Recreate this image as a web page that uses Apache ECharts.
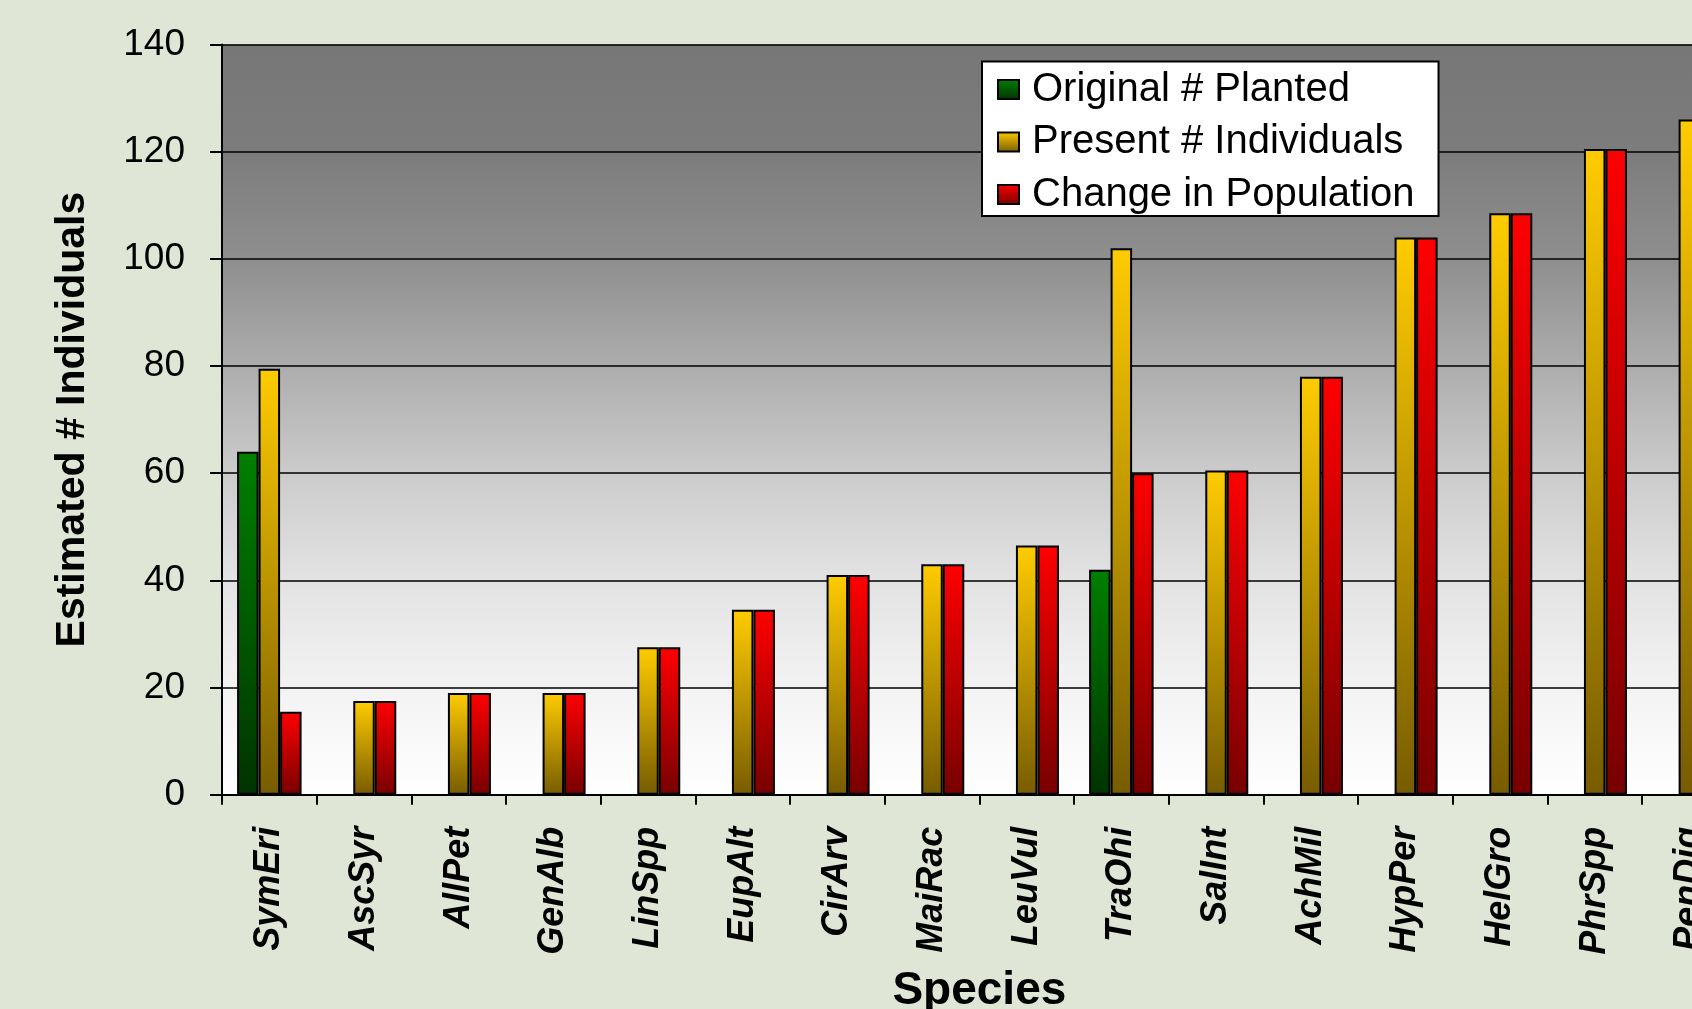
<!DOCTYPE html>
<html>
<head>
<meta charset="utf-8">
<script src="https://cdn.jsdelivr.net/npm/echarts@6/dist/echarts.min.js"></script>
<style>
html,body{margin:0;padding:0;background:#dfe6d5;}
#chart{width:1692px;height:1009px;}
</style>
</head>
<body>
<div id="chart"></div>
<script>
const categories = ['SymEri','AscSyr','AllPet','GenAlb','LinSpp','EupAlt','CirArv','MaiRac','LeuVul','TraOhi','SalInt','AchMil','HypPer','HelGro','PhrSpp','PenDig'];
const originalPlanted = [64, null, null, null, null, null, null, null, null, 42, null, null, null, null, null, null];
const presentIndividuals = [79.5, 17.5, 19, 19, 27.5, 34.5, 41, 43, 46.5, 102, 60.5, 78, 104, 108.5, 120.5, 126];
const changeInPopulation = [15.5, 17.5, 19, 19, 27.5, 34.5, 41, 43, 46.5, 60, 60.5, 78, 104, 108.5, 120.5, 126];
const yTicks = {min: 0, max: 140, interval: 20};

const chart = echarts.init(document.getElementById('chart'), null, {renderer: 'canvas'});
const G = echarts.graphic.LinearGradient;
const grad = (top, bottom) => new G(0, 0, 0, 1, [{offset: 0, color: top}, {offset: 1, color: bottom}]);
const plotBg = new G(0, 0, 0, 1, [
  {offset: 0, color: '#777777'},
  {offset: 0.14, color: '#7c7c7c'},
  {offset: 0.29, color: '#8f8f8f'},
  {offset: 0.43, color: '#adadad'},
  {offset: 0.57, color: '#cbcbcb'},
  {offset: 0.71, color: '#e2e2e2'},
  {offset: 0.86, color: '#f3f3f3'},
  {offset: 1, color: '#ffffff'}
]);

const barCommon = {
  type: 'bar',
  barWidth: 21.5,
  barGap: '0%',
  emphasis: {disabled: true}
};

chart.setOption({
  backgroundColor: '#dfe6d5',
  animation: false,
  grid: {
    left: 222, top: 44.5, width: 1514.7, height: 750.2,
    outerBoundsMode: 'none',
    containLabel: false,
    show: true, backgroundColor: plotBg, borderWidth: 0
  },
  legend: {
    left: 982, top: 61.5,
    orient: 'vertical',
    backgroundColor: '#ffffff',
    borderColor: '#000000',
    borderWidth: 2,
    borderRadius: 0,
    padding: [8, 24, 1.5, 15],
    itemWidth: 21, itemHeight: 19,
    itemGap: 12.5,
    icon: 'rect',
    textStyle: {fontFamily: 'Liberation Sans, Arial, sans-serif', fontSize: 40, color: '#000', lineHeight: 40, padding: [0, 0, 0, 8]},
    data: ['Original # Planted', 'Present # Individuals', 'Change in Population']
  },
  xAxis: {
    type: 'category',
    data: categories,
    boundaryGap: true,
    name: 'Species',
    nameLocation: 'middle',
    nameGap: 174,
    nameTextStyle: {fontFamily: 'Liberation Sans, Arial, sans-serif', fontWeight: 'bold', fontSize: 46, color: '#000'},
    axisLine: {show: true, lineStyle: {color: '#000', width: 2}},
    axisTick: {show: true, length: 10, lineStyle: {color: '#000', width: 2}},
    axisLabel: {
      rotate: 90, margin: 32, interval: 0,
      fontFamily: 'Liberation Sans, Arial, sans-serif', fontWeight: 'bold', fontStyle: 'italic',
      fontSize: 36, color: '#000'
    },
    splitLine: {show: false}
  },
  yAxis: {
    type: 'value',
    min: yTicks.min, max: yTicks.max, interval: yTicks.interval,
    name: 'Estimated # Individuals',
    nameLocation: 'middle',
    nameRotate: 90,
    nameGap: 129,
    nameTextStyle: {fontFamily: 'Liberation Sans, Arial, sans-serif', fontWeight: 'bold', fontSize: 41, color: '#000'},
    axisLine: {show: true, lineStyle: {color: '#000', width: 2}},
    axisTick: {show: true, length: 12, lineStyle: {color: '#000', width: 2}},
    axisLabel: {margin: 37, fontFamily: 'Liberation Sans, Arial, sans-serif', fontSize: 37, color: '#000'},
    splitLine: {show: true, lineStyle: {color: '#000', width: 1.5}}
  },
  series: [
    Object.assign({}, barCommon, {
      name: 'Original # Planted',
      data: originalPlanted,
      itemStyle: {color: grad('#008000', '#003300'), borderColor: '#000', borderWidth: 2}
    }),
    Object.assign({}, barCommon, {
      name: 'Present # Individuals',
      data: presentIndividuals,
      itemStyle: {color: grad('#ffcc00', '#775c00'), borderColor: '#000', borderWidth: 2}
    }),
    Object.assign({}, barCommon, {
      name: 'Change in Population',
      data: changeInPopulation,
      itemStyle: {color: grad('#ff0000', '#770000'), borderColor: '#000', borderWidth: 2}
    })
  ]
});
</script>
</body>
</html>
